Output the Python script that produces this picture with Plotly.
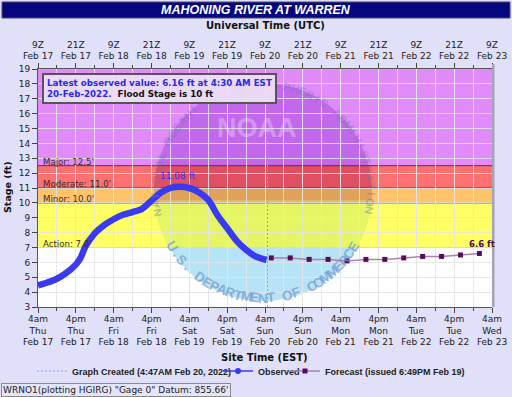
import numpy as np
import plotly.graph_objects as go

# ---------------- data ----------------
obs_time = ["2022-02-17 04:00", "2022-02-17 07:00", "2022-02-17 10:00", "2022-02-17 13:00",
            "2022-02-17 16:00", "2022-02-17 17:30", "2022-02-17 19:00", "2022-02-17 22:00",
            "2022-02-18 01:00", "2022-02-18 04:00", "2022-02-18 07:00", "2022-02-18 10:00",
            "2022-02-18 13:00", "2022-02-18 16:00", "2022-02-18 19:00", "2022-02-18 22:00",
            "2022-02-19 01:00", "2022-02-19 04:00", "2022-02-19 07:00", "2022-02-19 10:00",
            "2022-02-19 13:00", "2022-02-19 16:00", "2022-02-19 19:00", "2022-02-19 22:00",
            "2022-02-20 01:00", "2022-02-20 04:30"]
obs_stage = [4.45, 4.65, 4.9, 5.3,
             5.85, 6.3, 7.05, 7.95,
             8.5, 8.9, 9.2, 9.38,
             9.6, 10.15, 10.7, 11.0,
             11.08, 11.0, 10.72, 10.2,
             9.15, 8.3, 7.45, 6.85,
             6.4, 6.16]

fcst_time = ["2022-02-20 06:00", "2022-02-20 12:00", "2022-02-20 18:00", "2022-02-21 00:00",
             "2022-02-21 06:00", "2022-02-21 12:00", "2022-02-21 18:00", "2022-02-22 00:00",
             "2022-02-22 06:00", "2022-02-22 12:00", "2022-02-22 18:00", "2022-02-23 00:00"]
fcst_stage = [6.3, 6.3, 6.2, 6.2, 6.1, 6.2, 6.2, 6.3, 6.4, 6.4, 6.5, 6.6]

created_time = "2022-02-20 04:47"
flood_levels = [7.0, 10.0, 11.0, 12.5]
flood_names = ["Action", "Minor", "Moderate", "Major"]
y_range = [3, 19]
x_range_est = ["2022-02-17 04:00", "2022-02-23 04:00"]
x_range_utc = ["2022-02-17 09:00", "2022-02-23 09:00"]

est_tick_times = ["2022-02-17 04:00", "2022-02-17 16:00", "2022-02-18 04:00", "2022-02-18 16:00",
                  "2022-02-19 04:00", "2022-02-19 16:00", "2022-02-20 04:00", "2022-02-20 16:00",
                  "2022-02-21 04:00", "2022-02-21 16:00", "2022-02-22 04:00", "2022-02-22 16:00",
                  "2022-02-23 04:00"]
est_tick_text = ["4am<br>Thu<br>Feb 17", "4pm<br>Thu<br>Feb 17", "4am<br>Fri<br>Feb 18",
                 "4pm<br>Fri<br>Feb 18", "4am<br>Sat<br>Feb 19", "4pm<br>Sat<br>Feb 19",
                 "4am<br>Sun<br>Feb 20", "4pm<br>Sun<br>Feb 20", "4am<br>Mon<br>Feb 21",
                 "4pm<br>Mon<br>Feb 21", "4am<br>Tue<br>Feb 22", "4pm<br>Tue<br>Feb 22",
                 "4am<br>Wed<br>Feb 23"]
utc_tick_times = ["2022-02-17 09:00", "2022-02-17 21:00", "2022-02-18 09:00", "2022-02-18 21:00",
                  "2022-02-19 09:00", "2022-02-19 21:00", "2022-02-20 09:00", "2022-02-20 21:00",
                  "2022-02-21 09:00", "2022-02-21 21:00", "2022-02-22 09:00", "2022-02-22 21:00",
                  "2022-02-23 09:00"]
utc_tick_text = ["9Z<br>Feb 17", "21Z<br>Feb 17", "9Z<br>Feb 18", "21Z<br>Feb 18",
                 "9Z<br>Feb 19", "21Z<br>Feb 19", "9Z<br>Feb 20", "21Z<br>Feb 20",
                 "9Z<br>Feb 21", "21Z<br>Feb 21", "9Z<br>Feb 22", "21Z<br>Feb 22",
                 "9Z<br>Feb 23"]

# ---------------- layout helpers ----------------
W_FIG, H_FIG = 512, 397
L, T, W, H = 38, 69, 454, 238


def px(xp):
    return (xp - L) / W


def py(yp):
    return (T + H - yp) / H


def cx_(xp):
    return xp / W_FIG


def cy_(yp):
    return 1 - yp / H_FIG


DJ = "DejaVu Sans, Verdana, sans-serif"
LS = "Liberation Sans, Arial, sans-serif"
GRID = "rgba(228,228,232,0.85)"
SIX_H = 6 * 3600 * 1000

band_colors = ["rgb(255,255,20)", "rgb(255,163,24)", "rgb(255,35,35)", "rgb(209,75,246)"]
line_colors = ["#8c8c6a", "#6b4a2a", "#6a3030", "#7a2020"]

fig = go.Figure()

fig.add_trace(go.Scatter(x=[created_time, created_time], y=y_range, mode="lines",
                         line=dict(color="#9c9cf2", width=1, dash="2px,2px"),
                         name="<b>Graph Created (4:47AM Feb 20, 2022)</b>", hoverinfo="skip",
                         legend="legend"))
fig.add_trace(go.Scatter(x=obs_time, y=obs_stage, mode="lines",
                         line=dict(color="#3a3af0", width=6.5, shape="spline", smoothing=0.8),
                         showlegend=False))
fig.add_trace(go.Scatter(x=[None], y=[None], mode="lines+markers",
                         line=dict(color="#3a3af0", width=1.5),
                         marker=dict(size=6, color="#3a3af0"), name="<b>Observed</b>",
                         legend="legend2"))
fig.add_trace(go.Scatter(x=fcst_time, y=fcst_stage, mode="lines+markers",
                         line=dict(color="#a784a8", width=1.5),
                         marker=dict(symbol="square", size=5, color="#5a0a5a"),
                         name="<b>Forecast (issued 6:49PM Feb 19)</b>", legend="legend3"))
fig.add_trace(go.Scatter(x=x_range_utc, y=y_range, xaxis="x2", mode="markers",
                         marker=dict(opacity=0), showlegend=False, hoverinfo="skip"))

shapes = []
# plot background (white) and NOAA watermark beneath translucent bands
shapes.append(dict(type="rect", xref="paper", yref="paper", x0=0, x1=1, y0=0, y1=1,
                   fillcolor="white", line=dict(width=0), layer="below"))
cx, cy, r, ysplit = 263, 192, 109, 200
ang = np.linspace(0, 2 * np.pi, 181)
cxs = cx + r * np.cos(ang)
cys = cy + r * np.sin(ang)
top_pts = [(xx, min(yy, ysplit)) for xx, yy in zip(cxs, cys)]
bot_pts = [(xx, max(yy, ysplit)) for xx, yy in zip(cxs, cys)]


def path_of(pts):
    return "M " + " L ".join(f"{px(a):.5f},{py(b):.5f}" for a, b in pts) + " Z"


shapes.append(dict(type="path", xref="paper", yref="paper", path=path_of(top_pts),
                   fillcolor="rgb(165,160,215)", line=dict(width=0), layer="below"))
shapes.append(dict(type="path", xref="paper", yref="paper", path=path_of(bot_pts),
                   fillcolor="rgb(182,227,246)", line=dict(width=0), layer="below"))

band_edges = flood_levels + [y_range[1]]
for i in range(len(flood_levels)):
    shapes.append(dict(type="rect", xref="paper", yref="y", x0=0, x1=1,
                       y0=band_edges[i], y1=band_edges[i + 1], fillcolor=band_colors[i],
                       opacity=0.65, line=dict(width=0), layer="below"))
for lv, lc in zip(flood_levels, line_colors):
    shapes.append(dict(type="line", xref="paper", yref="y", x0=0, x1=1, y0=lv, y1=lv,
                       line=dict(color=lc, width=1), layer="between"))
# title bar
shapes.append(dict(type="rect", xref="paper", yref="paper", x0=px(2), x1=px(510),
                   y0=py(18), y1=py(2), fillcolor="#06067e", line=dict(color="#4a4a6a", width=1)))
# right shadow of plot frame
shapes.append(dict(type="rect", xref="paper", yref="paper", x0=px(492), x1=px(494.5),
                   y0=py(307), y1=py(64), fillcolor="#a4a4b4", line=dict(width=0)))

ann = []
# watermark texts (drawn first, under the other labels)
ann.append(dict(x=px(257), y=py(128), xref="paper", yref="paper", showarrow=False, text="<b>NOAA</b>",
                font=dict(family=LS, size=27, color="rgba(240,222,255,0.4)"),
                xanchor="center", yanchor="middle"))
top_txt = "NATIONAL OCEANIC AND ATMOSPHERIC ADMINISTRATION"
Rt = 108
for k, ch in enumerate(top_txt):
    if ch == " ":
        continue
    psi = np.deg2rad(-101 + 201 * k / (len(top_txt) - 1))
    xx, yy = cx + Rt * np.sin(psi), cy - Rt * np.cos(psi)
    if xx < 284 and yy < 106:
        continue  # hidden beneath the latest-observed box
    ann.append(dict(x=px(xx), y=py(yy), xref="paper", yref="paper",
                    showarrow=False, text=f"<b>{ch}</b>", textangle=float(np.rad2deg(psi)),
                    font=dict(family=LS, size=11, color="rgba(110,120,170,0.42)"),
                    xanchor="center", yanchor="middle"))
bot_txt = "U.S. DEPARTMENT OF COMMERCE"
Rb = 106
for k, ch in enumerate(bot_txt):
    if ch == " ":
        continue
    phi = np.deg2rad(-59 + 118 * k / (len(bot_txt) - 1))
    ann.append(dict(x=px(cx + Rb * np.sin(phi)), y=py(cy + Rb * np.cos(phi)), xref="paper", yref="paper",
                    showarrow=False, text=f"<b>{ch}</b>", textangle=float(-np.rad2deg(phi)),
                    font=dict(family=LS, size=13.5, color="rgba(115,155,208,0.75)"),
                    xanchor="center", yanchor="middle"))

ann.append(dict(x=px(256), y=py(10), xref="paper", yref="paper", showarrow=False,
                text="<b><i>MAHONING RIVER AT WARREN</i></b>",
                font=dict(family=LS, size=12.5, color="white"), xanchor="center", yanchor="middle"))
ann.append(dict(x=px(265), y=py(25), xref="paper", yref="paper", showarrow=False,
                text="<b>Universal Time (UTC)</b>", font=dict(family=DJ, size=10, color="#111"),
                xanchor="center", yanchor="middle"))
ann.append(dict(x=px(264), y=py(357.5), xref="paper", yref="paper", showarrow=False,
                text="<b>Site Time (EST)</b>", font=dict(family=DJ, size=10, color="#111"),
                xanchor="center", yanchor="middle"))
ann.append(dict(x=px(7), y=py(187), xref="paper", yref="paper", showarrow=False,
                text="<b>Stage (ft)</b>", textangle=-90, font=dict(family=DJ, size=9.5, color="#111"),
                xanchor="center", yanchor="middle"))
ann.append(dict(x=px(1), y=py(396.5), xref="paper", yref="paper", showarrow=False,
                text='WRNO1(plotting HGIRG) "Gage 0" Datum: 855.66\'',
                font=dict(family=DJ, size=9, color="#222"), xanchor="left", yanchor="bottom",
                bgcolor="#e4e4fb", bordercolor="#8a8a8a", borderwidth=1, borderpad=1))

# flood category labels
for nm, lv in zip(flood_names, flood_levels):
    ann.append(dict(x=px(41), y=lv, xref="paper", yref="y", showarrow=False,
                    text=f"{nm}: {lv:.1f}'", font=dict(family=DJ, size=8.6, color="#3a2a2a"),
                    xanchor="left", yanchor="bottom", yshift=-3))

# peak and last forecast labels
ip = int(np.argmax(obs_stage))
ann.append(dict(x=obs_time[ip], y=obs_stage[ip], showarrow=False, text=f"{obs_stage[ip]:.2f} ft",
                font=dict(family=DJ, size=9, color="#3434ee"), xanchor="center", yanchor="bottom",
                yshift=4, xshift=-2))
ann.append(dict(x=fcst_time[-1], y=fcst_stage[-1], showarrow=False, text=f"<b>{fcst_stage[-1]:.1f} ft</b>",
                font=dict(family=DJ, size=8.5, color="#4a0a4a"), xanchor="center", yanchor="bottom",
                yshift=2, xshift=3))

# latest observed box
ann.append(dict(x=px(42), y=py(73), xref="paper", yref="paper", showarrow=False,
                text=("<b><span style='color:#2a2ae6'>Latest observed value: "
                      f"{obs_stage[-1]:.2f} ft at 4:30 AM EST</span><br>"
                      "<span style='color:#2a2ae6'>20-Feb-2022.</span>&nbsp; Flood Stage is 10 ft</b>"),
                font=dict(family=DJ, size=8.7, color="#111"), align="left",
                xanchor="left", yanchor="top", bgcolor="rgba(236,224,244,0.93)",
                bordercolor="#555", borderwidth=2, borderpad=3))

leg_common = dict(orientation="h", xref="container", yref="container", xanchor="left",
                  yanchor="middle", bgcolor="rgba(0,0,0,0)", borderwidth=0,
                  font=dict(family=LS, size=9, color="#222"), itemwidth=30)

fig.update_layout(
    width=W_FIG, height=H_FIG, autosize=False,
    margin=dict(l=L, r=W_FIG - L - W, t=T, b=H_FIG - T - H, pad=0, autoexpand=False),
    paper_bgcolor="#e0e0f9", plot_bgcolor="rgba(0,0,0,0)",
    shapes=shapes, annotations=ann,
    showlegend=True,
    legend=dict(x=cx_(32), y=cy_(371), **leg_common),
    legend2=dict(x=cx_(218), y=cy_(371), **leg_common),
    legend3=dict(x=cx_(285), y=cy_(371), **leg_common),
    xaxis=dict(type="date", range=x_range_est, tickmode="array", tickvals=est_tick_times,
               ticktext=est_tick_text, ticks="outside", ticklen=5, tickcolor="#444",
               showline=True, linecolor="#555", linewidth=1, showgrid=True, gridcolor=GRID,
               zeroline=False, automargin=False, ticklabelstandoff=-2,
               tickfont=dict(family=DJ, size=9, color="#222"),
               minor=dict(dtick=SIX_H, tick0=x_range_est[0], ticks="outside", ticklen=3,
                          tickcolor="#444", showgrid=True, gridcolor=GRID)),
    xaxis2=dict(type="date", overlaying="x", side="top", anchor="y", range=x_range_utc,
                tickmode="array", tickvals=utc_tick_times, ticktext=utc_tick_text,
                ticks="outside", ticklen=5, tickcolor="#444", showline=True, linecolor="#555",
                linewidth=1, showgrid=False, zeroline=False, automargin=False,
                tickfont=dict(family=DJ, size=9, color="#222"),
                minor=dict(dtick=SIX_H, tick0=x_range_utc[0], ticks="outside", ticklen=3,
                           tickcolor="#444", showgrid=False)),
    yaxis=dict(range=y_range, tick0=3, dtick=1, ticks="outside", ticklen=5, tickcolor="#444",
               showline=True, linecolor="#555", linewidth=1, showgrid=True, gridcolor=GRID,
               zeroline=False, automargin=False, tickfont=dict(family=DJ, size=9, color="#222")),
)

fig.write_html("out.html", config={"displayModeBar": False},
               post_script="document.body.style.margin='0px';")
